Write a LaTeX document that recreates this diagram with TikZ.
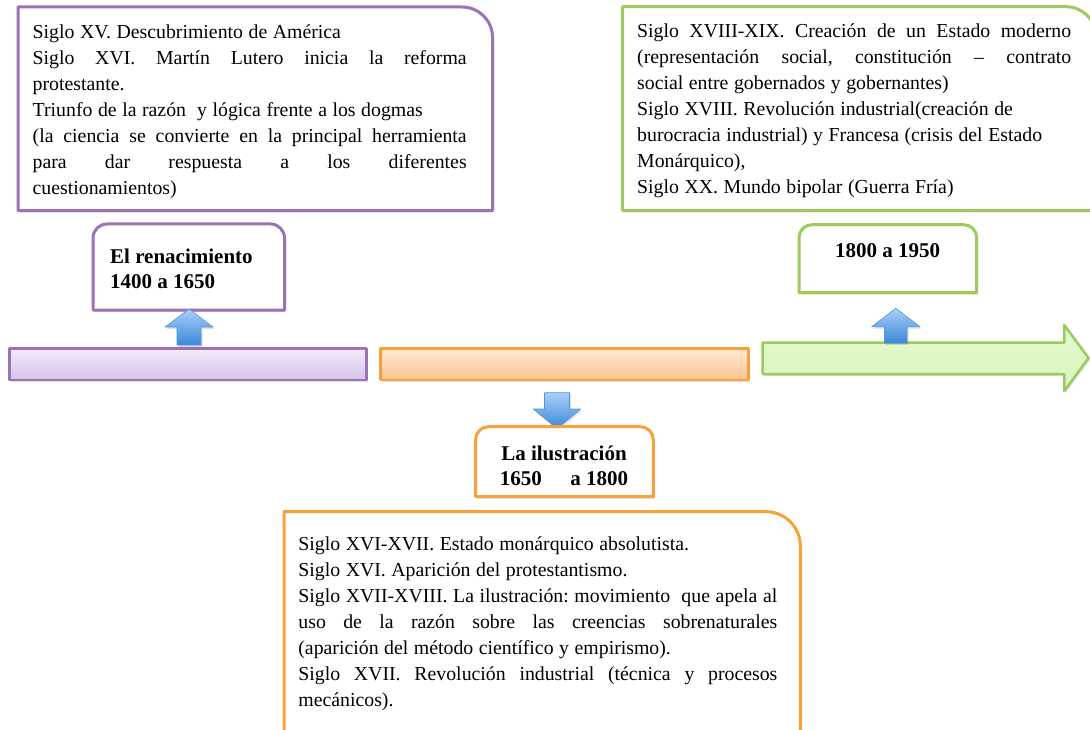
\documentclass[tikz,border=0pt]{standalone}
\usepackage{fontspec}
\setmainfont{Liberation Serif}
\usetikzlibrary{shadows}
\definecolor{pstroke}{RGB}{155,114,180}
\definecolor{gstroke}{RGB}{156,203,92}
\definecolor{ostroke}{RGB}{248,160,60}
\definecolor{ptop}{RGB}{243,235,250}
\definecolor{pbot}{RGB}{214,194,234}
\definecolor{otop}{RGB}{254,232,212}
\definecolor{obot}{RGB}{251,196,142}
\definecolor{gfill}{RGB}{226,250,206}
\definecolor{gfillb}{RGB}{216,245,190}
\definecolor{btop}{RGB}{170,208,248}
\definecolor{bbot}{RGB}{58,136,216}
\definecolor{bstroke}{RGB}{80,150,225}
\newcommand{\jl}[2]{\leavevmode\hbox to #1{\spaceskip=0.28em plus 1em minus 0.05em\relax\xspaceskip=\spaceskip #2}}
\newcommand{\normsp}{\frenchspacing\spaceskip=0.28em\relax\xspaceskip=\spaceskip}
\begin{document}
\begin{tikzpicture}[x=1pt,y=-1pt,line join=round,
  shd/.style={drop shadow={opacity=0.25,shadow xshift=1.5pt,shadow yshift=-1.8pt,fill=gray}},
  bigbox/.style={line width=3pt,fill=white,shd},
  body/.style={inner sep=0pt,anchor=north west,align=left,font=\fontsize{19.8}{26}\selectfont},
  lbl/.style={inner sep=0pt,font=\bfseries\fontsize{21}{25.5}\selectfont},
  bar/.style={line width=2.5pt,shd},
  bluearrow/.style={draw=bstroke,line width=0.6pt,top color=btop,bottom color=bbot,shd}
]
\useasboundingbox (0,0) rectangle (1090,730);
\clip (0,0) rectangle (1090,730);

% big top-left box (purple)
\draw[bigbox,draw=pstroke] (18,210.7) -- (18,7) -- (462,7) .. controls (478.6,7) and (492.5,20.4) .. (492.5,37) -- (492.5,210.7) -- cycle;
\node[body,text width=434pt] (ptext) at (32.5,19.8) {\normsp\strut Siglo XV. Descubrimiento de América\\
\jl{434pt}{Siglo XVI. Martín Lutero inicia la reforma}\\
protestante.\\
Triunfo de la razón\ \ y lógica frente a los dogmas\\
\jl{434pt}{(la ciencia se convierte en la principal herramienta}\\
\jl{434pt}{para dar respuesta a los diferentes}\\
cuestionamientos)};

% big top-right box (green)
\draw[bigbox,draw=gstroke] (622.7,210.7) -- (622.7,6.7) -- (1066,6.7) .. controls (1082.6,6.7) and (1096,20) .. (1096,36.7) -- (1096,210.7) -- cycle;
\node[body,text width=434pt] (gtext) at (637,18.8) {\normsp\strut \jl{434pt}{Siglo XVIII-XIX. Creación de un Estado moderno}\\
\jl{434pt}{(representación social, constitución – contrato}\\
social entre gobernados y gobernantes)\\
Siglo XVIII. Revolución industrial(creación de\\
burocracia industrial) y Francesa (crisis del Estado\\
Monárquico),\\
Siglo XX. Mundo bipolar (Guerra Fría)};

% label boxes
\draw[bigbox,draw=pstroke] (93,310) -- (93,238) .. controls (93,230.3) and (99.3,224) .. (107,224) -- (270.5,224) .. controls (278.2,224) and (284.5,230.3) .. (284.5,238) -- (284.5,310) -- cycle;
\node[lbl,anchor=north west,align=left] (ren) at (110,245.15) {\strut El renacimiento\\1400 a 1650};

\draw[bigbox,draw=gstroke] (799,292.7) -- (799,237.7) .. controls (799,230.5) and (804.8,224.7) .. (812,224.7) -- (963.7,224.7) .. controls (970.9,224.7) and (976.7,230.5) .. (976.7,237.7) -- (976.7,292.7) -- cycle;
\node[lbl,anchor=base] (mod) at (887.5,257.3) {1800 a 1950};

% timeline bars
\draw[bar,draw=pstroke,top color=ptop,bottom color=pbot] (9.5,348.3) rectangle (366.7,380);
\draw[bar,draw=ostroke,top color=otop,bottom color=obot] (380.7,348.3) rectangle (748.3,380);
\draw[bar,draw=gstroke,top color=gfill,bottom color=gfillb] (762.7,342.7) -- (1064.3,342.7) -- (1064.3,325) -- (1088.5,358) -- (1064.3,391) -- (1064.3,374) -- (762.7,374) -- cycle;

% blue arrows
\draw[bluearrow] (177,345) -- (177,327) -- (165,327) -- (189,309) -- (213,327) -- (201,327) -- (201,345) -- cycle;
\draw[bluearrow] (884.5,343) -- (884.5,326.7) -- (871.7,326.7) -- (895.8,308.3) -- (920,326.7) -- (907,326.7) -- (907,343) -- cycle;
\draw[bluearrow] (544.5,392.7) -- (569.5,392.7) -- (569.5,409) -- (580.7,409) -- (557,428.7) -- (533.3,409) -- (544.5,409) -- cycle;

% la ilustración box
\draw[bigbox,draw=ostroke] (475.6,496.7) -- (475.6,439.7) .. controls (475.6,432.5) and (481.4,426.7) .. (488.6,426.7) -- (640.3,426.7) .. controls (647.5,426.7) and (653.3,432.5) .. (653.3,439.7) -- (653.3,496.7) -- cycle;
\node[lbl,anchor=north,align=center] (ilu) at (564,442.15) {\strut La ilustración\\1650\hspace{1.1em} a 1800};

% big bottom box (orange)
\draw[bigbox,draw=ostroke] (284,745) -- (284,511.7) -- (766,511.7) .. controls (784.8,511.7) and (800.3,526.9) .. (800.3,545.7) -- (800.3,745) -- cycle;
\node[body,text width=479pt] (otext) at (298.2,531.8) {\normsp\strut Siglo XVI-XVII. Estado monárquico absolutista.\\
Siglo XVI. Aparición del protestantismo.\\
\jl{479pt}{Siglo XVII-XVIII. La ilustración: movimiento\ \ que apela al}\\
\jl{479pt}{uso de la razón sobre las creencias sobrenaturales}\\
(aparición del método científico y empirismo).\\
\jl{479pt}{Siglo XVII. Revolución industrial (técnica y procesos}\\
mecánicos).};
\end{tikzpicture}
\end{document}
